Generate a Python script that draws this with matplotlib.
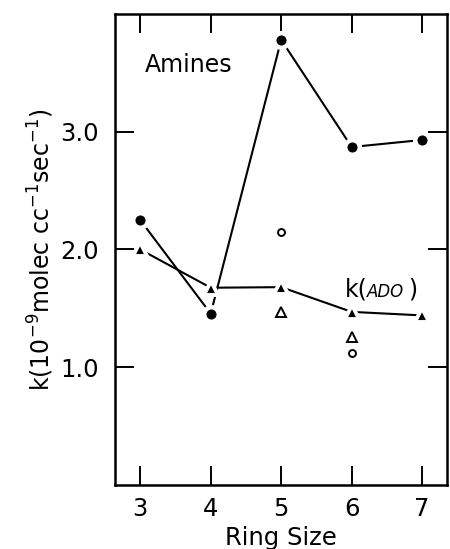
import matplotlib
matplotlib.use("Agg")
import matplotlib.pyplot as plt

ring = [3, 4, 5, 6, 7]
amines = [2.25, 1.455, 3.78, 2.87, 2.93]
k_ado = [2.0, 1.675, 1.68, 1.47, 1.44]

open_tri_x = [5, 6]
open_tri_y = [1.47, 1.26]
open_circ_x = [5, 6]
open_circ_y = [2.15, 1.12]

plt.rcParams["font.family"] = ["DejaVu Sans"]

fig = plt.figure(figsize=(4.5, 5.49), dpi=100)
ax = fig.add_axes([0.256, 0.1166, 0.737, 0.858])

# lines with white marker edges leave small gaps near points
ax.plot(ring, amines, color="black", lw=1.5, marker="o", ms=10.5,
        mfc="black", mec="white", mew=3.2, zorder=3)
ax.plot(ring, k_ado, color="black", lw=1.5, marker="^", ms=10,
        mfc="black", mec="white", mew=2.8, zorder=3)
ax.plot(open_tri_x, open_tri_y, linestyle="", marker="^", ms=6.5,
        mfc="white", mec="black", mew=1.4)
ax.plot(open_circ_x, open_circ_y, linestyle="", marker="o", ms=5,
        mfc="white", mec="black", mew=1.4)

ax.text(3.07, 3.57, "Amines", fontsize=17, va="center")
ax.text(5.91, 1.6, "k(", fontsize=17, va="baseline")
ax.text(6.22, 1.6, "ADO", fontsize=12, style="italic", va="baseline")
ax.text(6.8, 1.6, ")", fontsize=17, va="baseline")

ax.set_xlim(2.645, 7.35)
ax.set_ylim(0.0, 4.0)
ax.set_xticks(ring)
ax.set_yticks([1.0, 2.0, 3.0])
ax.set_yticklabels(["1.0", "2.0", "3.0"])
ax.tick_params(direction="in", length=14, width=1.4, top=True, right=True,
               labelsize=17.5)
ax.tick_params(axis="x", pad=9)
ax.tick_params(axis="y", pad=12)
for s in ax.spines.values():
    s.set_linewidth(1.8)

ax.set_xlabel("Ring Size", fontsize=17.5, labelpad=3)
ax.set_ylabel(r"k(10$^{-9}$molec cc$^{-1}$sec$^{-1}$)", fontsize=17, labelpad=3)

fig.savefig("out.png", dpi=100)
